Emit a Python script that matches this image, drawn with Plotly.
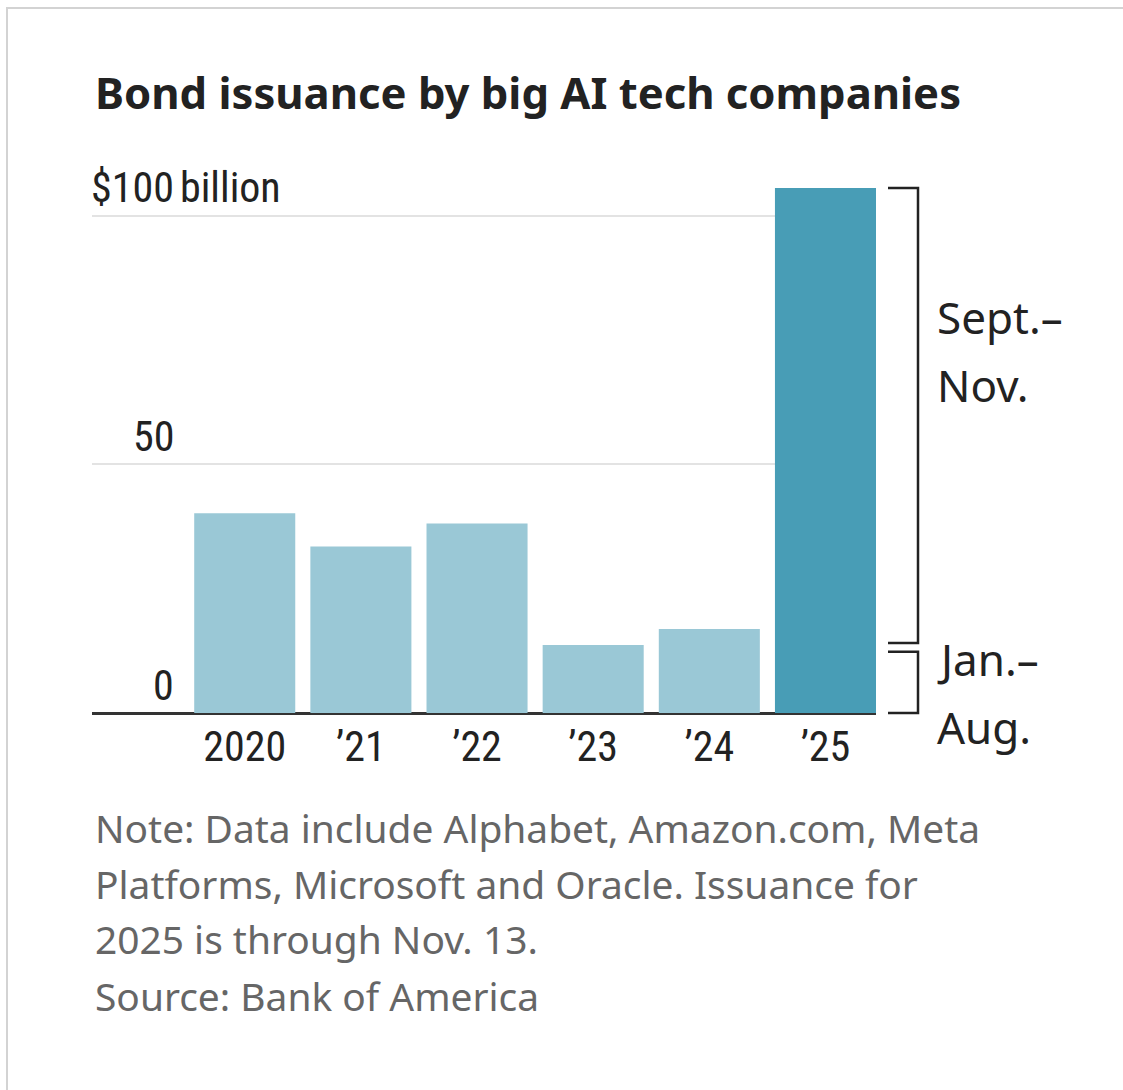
import plotly.graph_objects as go

# Annual bond issuance by the big AI tech companies, $ billions
years = ["2020", "’21", "’22", "’23", "’24", "’25"]
issuance = [40.2, 33.5, 38.1, 13.7, 16.9]
# 2025 is split into two periods, shown with brackets
jan_aug_2025 = 13.2
sep_nov_2025 = 92.4

y_ticks = [0, 50, 100]
y_tick_text = ["0", "50", "$100"]
y_unit = "billion"

title = "Bond issuance by big AI tech companies"
note_lines = [
    "Note: Data include Alphabet, Amazon.com, Meta",
    "Platforms, Microsoft and Oracle. Issuance for",
    "2025 is through Nov. 13.",
    "Source: Bank of America",
]

W, H = 1123, 1090
L, R, T, B = 92, 876, 186, 718
PW, PH = R - L, B - T


def px_x(px):
    return (px - L) / PW


def px_y(py):
    return (B - py) / PH


LIGHT = "#9AC8D6"
DARK = "#489DB6"
INK = "#222222"
NARROW = "Liberation Sans Narrow, Arial Narrow, Roboto Condensed, sans-serif"
SANS = "Noto Sans, Open Sans, sans-serif"

total_2025 = jan_aug_2025 + sep_nov_2025
values = issuance + [total_2025]
colors = [LIGHT] * len(issuance) + [DARK]

fig = go.Figure(
    go.Bar(
        x=years,
        y=values,
        marker=dict(color=colors, line=dict(width=0)),
        hoverinfo="skip",
    )
)

fig.update_layout(
    width=W,
    height=H,
    margin=dict(l=L, r=W - R, t=T, b=H - B),
    paper_bgcolor="white",
    plot_bgcolor="white",
    showlegend=False,
    bargap=0.13,
)

fig.update_xaxes(
    range=[-1.315, 5.435],
    showgrid=False,
    showline=False,
    zeroline=False,
    ticks="",
    tickfont=dict(family=NARROW, size=42, color=INK),
    ticklabelstandoff=0,
    fixedrange=True,
)

fig.update_yaxes(
    range=[-1, 106],
    tickvals=y_ticks,
    showticklabels=False,
    showgrid=True,
    gridcolor="rgba(0,0,0,0.11)",
    gridwidth=2,
    zeroline=True,
    zerolinecolor="#333333",
    zerolinewidth=3,
    layer="above traces",
    showline=False,
    ticks="",
    fixedrange=True,
)

annotations = []

# Title
annotations.append(dict(
    text=f"<b>{title}</b>", xref="paper", yref="paper",
    x=px_x(93), y=px_y(92), xanchor="left", yanchor="middle",
    showarrow=False, font=dict(family=SANS, size=43.6, color=INK),
))

# Y tick labels, numbers right-aligned with the unit hanging to the right
for v, txt in zip(y_ticks, y_tick_text):
    annotations.append(dict(
        text=txt, xref="paper", yref="y", x=px_x(176), y=v,
        xanchor="right", yanchor="middle", yshift=28, showarrow=False,
        font=dict(family=NARROW, size=42, color=INK),
    ))
annotations.append(dict(
    text=y_unit, xref="paper", yref="y", x=px_x(178), y=y_ticks[-1],
    xanchor="left", yanchor="middle", yshift=28, showarrow=False,
    font=dict(family=NARROW, size=42, color=INK),
))

# Bracket labels
for txt, py in [("Sept.–", 317), ("Nov.", 385), ("Jan.–", 659), ("Aug.", 727)]:
    annotations.append(dict(
        text=txt, xref="paper", yref="paper", x=px_x(935), y=px_y(py),
        xanchor="left", yanchor="middle", showarrow=False,
        font=dict(family=SANS, size=44, color=INK),
    ))

# Note and source
for i, line in enumerate(note_lines):
    annotations.append(dict(
        text=line, xref="paper", yref="paper", x=px_x(93), y=px_y(827 + 56 * i),
        xanchor="left", yanchor="middle", showarrow=False,
        font=dict(family=SANS, size=38.9, color="#666666"),
    ))

fig.update_layout(annotations=annotations)

# Brackets marking the two 2025 periods
gap = 0.9
bx0, bx1 = px_x(888), px_x(918)
bracket_style = dict(color=INK, width=2.5)
shapes = [
    dict(type="path", xref="paper", yref="y",
         path=f"M {bx0},{total_2025} L {bx1},{total_2025} L {bx1},{jan_aug_2025 + gap} L {bx0},{jan_aug_2025 + gap}",
         line=bracket_style),
    dict(type="path", xref="paper", yref="y",
         path=f"M {bx0},{jan_aug_2025 - gap} L {bx1},{jan_aug_2025 - gap} L {bx1},0 L {bx0},0",
         line=bracket_style),
    # frame edges on the left and top
    dict(type="path", xref="paper", yref="paper",
         path=f"M {px_x(7)},{px_y(H + 5)} L {px_x(7)},{px_y(8)} L {px_x(W)},{px_y(8)}",
         line=dict(color="#D3D3D3", width=2)),
]
fig.update_layout(shapes=shapes)

fig.write_html("out.html")
